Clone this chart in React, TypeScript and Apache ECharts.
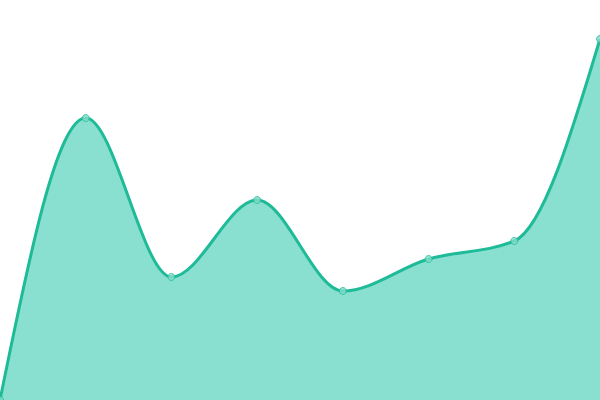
import { useEffect, useRef } from 'react';
import * as echarts from 'echarts';

const categories = ['A', 'B', 'C', 'D', 'E', 'F', 'G', 'H'];
const values = [0, 282, 123, 200, 109, 141, 159, 361];

const lineColor = '#1fba98';
const areaColor = '#89e0d0';

// monotone-x cubic path through pixel points (same as d3 curveMonotoneX)
function monotonePath(pts: number[][]) {
  const n = pts.length;
  const sign = (x: number) => (x < 0 ? -1 : 1);
  const t: number[] = new Array(n).fill(0);
  for (let i = 1; i < n - 1; i++) {
    const h0 = pts[i][0] - pts[i - 1][0];
    const h1 = pts[i + 1][0] - pts[i][0];
    const s0 = (pts[i][1] - pts[i - 1][1]) / h0;
    const s1 = (pts[i + 1][1] - pts[i][1]) / h1;
    const p = (s0 * h1 + s1 * h0) / (h0 + h1);
    t[i] = (sign(s0) + sign(s1)) * Math.min(Math.abs(s0), Math.abs(s1), 0.5 * Math.abs(p)) || 0;
  }
  const hA = pts[1][0] - pts[0][0];
  t[0] = (3 * (pts[1][1] - pts[0][1]) / hA - t[1]) / 2;
  const hB = pts[n - 1][0] - pts[n - 2][0];
  t[n - 1] = (3 * (pts[n - 1][1] - pts[n - 2][1]) / hB - t[n - 2]) / 2;

  let d = `M${pts[0][0]},${pts[0][1]}`;
  for (let i = 0; i < n - 1; i++) {
    const [x0, y0] = pts[i];
    const [x1, y1] = pts[i + 1];
    const dx = (x1 - x0) / 3;
    d += `C${x0 + dx},${y0 + dx * t[i]},${x1 - dx},${y1 - dx * t[i + 1]},${x1},${y1}`;
  }
  return d;
}

export default function App() {
  const chartRef = useRef<HTMLDivElement>(null);

  useEffect(() => {
    if (!chartRef.current) return;
    const chart = echarts.init(chartRef.current, undefined, { renderer: 'svg' });

    chart.setOption({
      animation: false,
      grid: { left: 0, right: 0, top: 0, bottom: 0 },
      xAxis: {
        type: 'category',
        data: categories,
        boundaryGap: false,
        show: false,
      },
      yAxis: {
        type: 'value',
        min: 0,
        max: 400,
        show: false,
      },
      series: [
        {
          type: 'custom',
          data: values.map((v, i) => [i, v]),
          renderItem: (params: any, api: any) => {
            if (params.dataIndex !== 0) return { type: 'group', children: [] };
            const pts = values.map((v, i) => api.coord([i, v]));
            const base = api.coord([0, 0])[1];
            const line = monotonePath(pts);
            const area = `${line}L${pts[pts.length - 1][0]},${base}L${pts[0][0]},${base}Z`;
            return {
              type: 'group',
              children: [
                { type: 'path', shape: { pathData: area }, style: { fill: areaColor } },
                {
                  type: 'path',
                  shape: { pathData: line },
                  style: { fill: 'none', stroke: lineColor, lineWidth: 3 },
                },
              ],
            };
          },
        },
        {
          type: 'scatter',
          data: values,
          symbol: 'circle',
          symbolSize: 7,
          itemStyle: { color: '#86dccb', borderColor: lineColor, borderWidth: 1 },
        },
      ],
    });

    return () => {
      chart.dispose();
    };
  }, []);

  return (
    <div
      ref={chartRef}
      style={{ position: 'fixed', left: 0, top: 0, width: 600, height: 400 }}
    />
  );
}
